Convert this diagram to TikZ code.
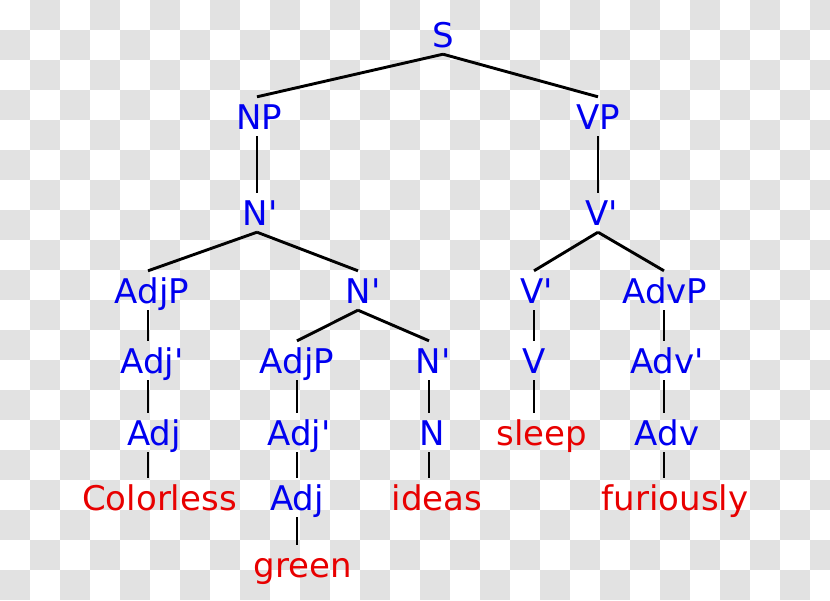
\documentclass[tikz,border=0pt]{standalone}
\usepackage{fontspec}
\setmainfont{DejaVu Sans}
\definecolor{chk}{RGB}{226,226,226}
\definecolor{cat}{RGB}{0,0,240}
\definecolor{word}{RGB}{232,0,0}
\newcommand{\ap}{\textquotesingle}
\tikzset{
  lbl/.style={anchor=base, inner xsep=1pt, inner ysep=0pt, text height=32pt, text depth=7pt,
    font=\fontsize{34}{40}\selectfont},
  catn/.style={lbl, text=cat},
  wordn/.style={lbl, text=word},
  tsh/.style={execute at begin node={\hspace*{#1}}},
  br/.style={line width=2.9pt, black}
}
\begin{document}
\begin{tikzpicture}[x=1pt, y=-1pt]
\useasboundingbox (0,0) rectangle (830,600);
\begin{scope}
\clip (0,0) rectangle (830,600);
\fill[white] (0,0) rectangle (830,600);
\foreach \i in {0,...,27} {
  \foreach \j in {0,...,19} {
    \ifodd\numexpr\i+\j\relax
      \fill[chk] (\i*30,\j*30) rectangle ++(30,30);
    \fi
  }
}
\end{scope}
% nodes
\node[catn] (S) at (443,47) {S};
\node[catn, tsh=4pt] (NP) at (257,129) {NP};
\node[catn] (VP) at (598,129) {VP};
\node[catn, tsh=6pt] (N1) at (257,225) {N\ap};
\node[catn, tsh=8pt] (V1) at (598,225) {V\ap};
\node[catn, tsh=8pt] (AdjP1) at (148,303) {AdjP};
\node[catn, tsh=10pt] (N2) at (358,303) {N\ap};
\node[catn, tsh=6pt] (V2) at (534,303) {V\ap};
\node[catn, tsh=2pt] (AdvP) at (664,303) {AdvP};
\node[catn, tsh=8pt] (Adjb1) at (148,373) {Adj\ap};
\node[catn] (AdjP2) at (297,373) {AdjP};
\node[catn, tsh=8pt] (N3) at (429,373) {N\ap};
\node[catn] (V) at (534,373) {V};
\node[catn, tsh=6pt] (Advb) at (664,373) {Adv\ap};
\node[catn, tsh=12pt] (Adj1) at (148,445) {Adj};
\node[catn, tsh=4pt] (Adjb2) at (297,445) {Adj\ap};
\node[catn, tsh=6pt] (N) at (429,445) {N};
\node[wordn, tsh=16pt] (sleep) at (534,445) {sleep};
\node[catn, tsh=6pt] (Adv) at (664,445) {Adv};
\node[wordn, tsh=23pt] (colorless) at (148,510) {Colorless};
\node[catn] (Adj2) at (297,510) {Adj};
\node[wordn, tsh=16pt] (ideas) at (429,510) {ideas};
\node[wordn, tsh=22pt] (furiously) at (664,510) {furiously};
\node[wordn, tsh=12pt] (green) at (297,577) {green};
% branches
\draw[br] (S.south) -- (NP.north);
\draw[br] (S.south) -- (VP.north);
\draw[br] (NP.south) -- (N1.north);
\draw[br] (VP.south) -- (V1.north);
\draw[br] (N1.south) -- (AdjP1.north);
\draw[br] (N1.south) -- (N2.north);
\draw[br] (V1.south) -- (V2.north);
\draw[br] (V1.south) -- (AdvP.north);
\draw[br] (AdjP1.south) -- (Adjb1.north);
\draw[br] (Adjb1.south) -- (Adj1.north);
\draw[br] (Adj1.south) -- (colorless.north);
\draw[br] (N2.south) -- (AdjP2.north);
\draw[br] (N2.south) -- (N3.north);
\draw[br] (AdjP2.south) -- (Adjb2.north);
\draw[br] (Adjb2.south) -- (Adj2.north);
\draw[br] (Adj2.south) -- (green.north);
\draw[br] (N3.south) -- (N.north);
\draw[br] (N.south) -- (ideas.north);
\draw[br] (V2.south) -- (V.north);
\draw[br] (V.south) -- (sleep.north);
\draw[br] (AdvP.south) -- (Advb.north);
\draw[br] (Advb.south) -- (Adv.north);
\draw[br] (Adv.south) -- (furiously.north);
\end{tikzpicture}
\end{document}
